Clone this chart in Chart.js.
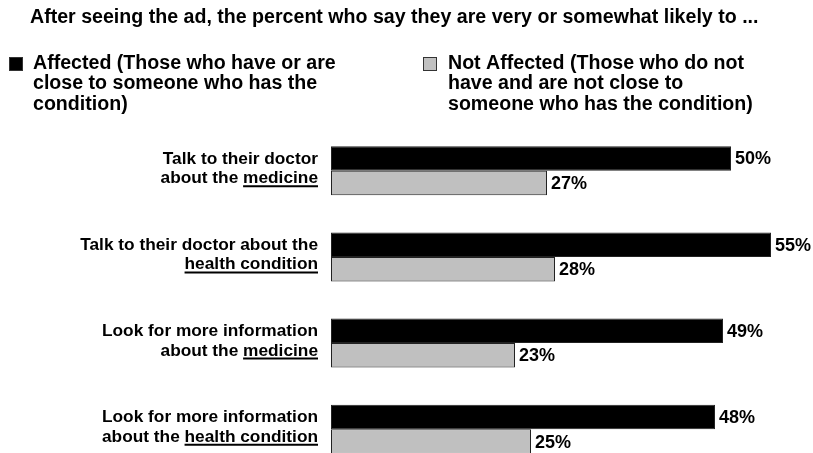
<!DOCTYPE html>
<html>
<head>
<meta charset="utf-8">
<script src="https://cdn.jsdelivr.net/npm/chart.js@4"></script>
<style>
    body { margin: 0; background: #fff; }
    #wrap { position: relative; width: 813px; height: 453px; }
</style>
</head>
<body>
<div id="wrap"><canvas id="likely"></canvas></div>
<script>
const titleText = "After seeing the ad, the percent who say they are very or somewhat likely to ...";

// legend text, already broken into lines
const affectedLegend = ["Affected (Those who have or are", "close to someone who has the", "condition)"];
const notAffectedLegend = ["Not Affected (Those who do not", "have and are not close to", "someone who has the condition)"];

// each label line is [plain part, underlined part]
const categoryLines = [
    [["Talk to their doctor", ""], ["about the ", "medicine"]],
    [["Talk to their doctor about the", ""], ["", "health condition"]],
    [["Look for more information", ""], ["about the ", "medicine"]],
    [["Look for more information", ""], ["about the ", "health condition"]]
];

const affected = [50, 55, 49, 48];
const notAffected = [27, 28, 23, 25];

const FONT = "'Liberation Sans', Arial, Helvetica, sans-serif";

function categoryLabels() {
    let labels = [];
    for (let i = 0; i < categoryLines.length; i++) {
        labels.push(categoryLines[i].map(l => l[0] + l[1]).join(" "));
    }
    return labels;
}

// title + the two wrapped legend entries
const headerPlugin = {
    id: "header",
    afterDraw(chart) {
        const ctx = chart.ctx;
        ctx.save();
        ctx.fillStyle = "#000";
        ctx.textBaseline = "alphabetic";
        ctx.textAlign = "left";
        ctx.font = "bold 19.6px " + FONT;
        ctx.fillText(titleText, 30, 23);

        const entries = [
            {x: 9, textX: 33, lines: affectedLegend, ds: chart.data.datasets[0]},
            {x: 423, textX: 448, lines: notAffectedLegend, ds: chart.data.datasets[1]}
        ];
        entries.forEach(e => {
            ctx.fillStyle = e.ds.backgroundColor;
            ctx.fillRect(e.x, 57, 14, 14);
            ctx.strokeStyle = "#333";
            ctx.lineWidth = 1;
            ctx.strokeRect(e.x + 0.5, 57.5, 13, 13);
            ctx.fillStyle = "#000";
            for (let i = 0; i < e.lines.length; i++) {
                ctx.fillText(e.lines[i], e.textX, 68.5 + i * 20.7);
            }
        });
        ctx.restore();
    }
};

// category labels on the left, with underlined words
const categoryPlugin = {
    id: "categoryText",
    afterDraw(chart) {
        const ctx = chart.ctx;
        const yScale = chart.scales.y;
        const right = 318;
        ctx.save();
        ctx.font = "bold 17.3px " + FONT;
        ctx.fillStyle = "#000";
        ctx.strokeStyle = "#000";
        ctx.textAlign = "left";
        ctx.textBaseline = "alphabetic";
        for (let i = 0; i < categoryLines.length; i++) {
            const yc = yScale.getPixelForValue(i);
            const lines = categoryLines[i];
            for (let j = 0; j < lines.length; j++) {
                const plain = lines[j][0];
                const under = lines[j][1];
                const wp = ctx.measureText(plain).width;
                const wu = ctx.measureText(under).width;
                const x0 = right - wp - wu;
                const base = yc - 7 + j * 19.5;
                ctx.fillText(plain, x0, base);
                if (under) {
                    ctx.fillText(under, x0 + wp, base);
                    ctx.lineWidth = 2;
                    ctx.beginPath();
                    ctx.moveTo(x0 + wp, base + 3);
                    ctx.lineTo(right, base + 3);
                    ctx.stroke();
                }
            }
        }
        ctx.restore();
    }
};

// percent labels at the end of each bar
const valuePlugin = {
    id: "values",
    afterDatasetsDraw(chart) {
        const ctx = chart.ctx;
        ctx.save();
        ctx.font = "bold 18px " + FONT;
        ctx.fillStyle = "#000";
        ctx.textAlign = "left";
        ctx.textBaseline = "middle";
        chart.data.datasets.forEach((ds, di) => {
            chart.getDatasetMeta(di).data.forEach((bar, i) => {
                ctx.fillText(ds.data[i] + "%", bar.x + 4, bar.y + 1);
            });
        });
        ctx.restore();
    }
};

new Chart(document.getElementById("likely"), {
    type: "bar",
    data: {
        labels: categoryLabels(),
        datasets: [{
            label: affectedLegend.join(" "),
            data: affected,
            backgroundColor: "#000000",
            borderColor: "#222222",
            borderWidth: 1,
            borderSkipped: false,
            clip: false
        },
            {
                label: notAffectedLegend.join(" "),
                data: notAffected,
                backgroundColor: "#c0c0c0",
                borderColor: "#222222",
                borderWidth: 1,
                borderSkipped: false,
                clip: false
            }]
    },
    options: {
        indexAxis: "y",
        responsive: true,
        maintainAspectRatio: false,
        animation: false,
        layout: {
            padding: {left: 331, right: 2, top: 170.7, bottom: 23.7}
        },
        datasets: {
            bar: {categoryPercentage: 0.568, barPercentage: 1}
        },
        scales: {
            x: {min: 0, max: 60, display: false},
            y: {offset: false, display: false}
        },
        plugins: {
            legend: {display: false},
            title: {display: false},
            tooltip: {enabled: false}
        }
    },
    plugins: [headerPlugin, categoryPlugin, valuePlugin]
});
</script>
</body>
</html>
